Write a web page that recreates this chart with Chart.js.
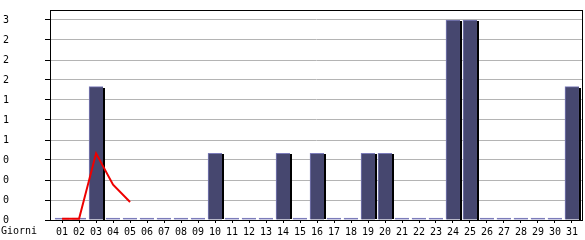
<!DOCTYPE html>
<html>
<head>
<meta charset="utf-8">
<script src="https://cdn.jsdelivr.net/npm/chart.js@4/dist/chart.umd.min.js"></script>
<style>
  body { margin: 0; background: #fff; }
  #wrap { width: 585px; height: 240px; }
</style>
</head>
<body>
<div id="wrap"><canvas id="giorni" width="585" height="240"></canvas></div>
<script>
const days = ['01','02','03','04','05','06','07','08','09','10','11','12','13','14','15','16',
              '17','18','19','20','21','22','23','24','25','26','27','28','29','30','31'];
const visits = [0,0,2,0,0,0,0,0,0,1,0,0,0,1,0,1,0,0,1,1,0,0,0,3,3,0,0,0,0,0,2];
const trend = [0.02, 0.02, 1.0, 0.53, 0.27];
const yTicks = [0, 0.3, 0.6, 0.9, 1.2, 1.5, 1.8, 2.1, 2.4, 2.7, 3.0];
const yLabels = ['0','0','0','0','1','1','1','2','2','2','3'];
const axisTitle = 'Giorni';

const FONT = { family: '"DejaVu Sans Mono", monospace', size: 10 };
const BODY = '#46476f';
const EDGE = '#7c7cba';

// black strip on the right of each bar, from the bar's own geometry
const barShadow = {
    id: 'barShadow',
    afterDatasetDraw(chart, args) {
        if (args.index !== 0) return;
        const ctx = chart.ctx;
        ctx.save();
        ctx.fillStyle = '#000';
        args.meta.data.forEach((el, i) => {
            if (!visits[i]) return;
            const p = el.getProps(['x', 'y', 'width', 'base'], true);
            ctx.fillRect(Math.round(p.x + p.width / 2), Math.round(p.y) + 1, 2, Math.round(p.base - p.y) - 1);
        });
        ctx.restore();
    }
};

const frame = {
    id: 'frame',
    beforeDatasetsDraw(chart) {
        const a = chart.chartArea;
        const ctx = chart.ctx;
        ctx.save();
        ctx.strokeStyle = '#000';
        ctx.lineWidth = 1;
        ctx.strokeRect(Math.round(a.left) + 0.5, Math.round(a.top) + 0.5,
                       Math.round(a.right - a.left), Math.round(a.bottom - a.top));
        ctx.restore();
    },
    afterDraw(chart) {
        const ctx = chart.ctx;
        ctx.save();
        ctx.fillStyle = '#000';
        ctx.font = '10px "DejaVu Sans Mono", monospace';
        ctx.textBaseline = 'middle';
        ctx.textAlign = 'left';
        ctx.fillText(axisTitle, 1, chart.scales.x.top + 11);
        ctx.restore();
    }
};

new Chart(document.getElementById('giorni'), {
    data: {
        datasets: [{
            type: 'bar',
            label: 'visite',
            data: days.map((d, i) => ({ x: i + 1, y: visits[i] })),
            backgroundColor: c => (c.raw && c.raw.y === 0) ? EDGE : BODY,
            borderColor: EDGE,
            borderWidth: { left: 1, top: 1, right: 0, bottom: 0 },
            borderSkipped: false,
            minBarLength: 2,
            barThickness: 14,
            order: 1
        }, {
            type: 'line',
            label: 'media',
            data: trend.map((v, i) => ({ x: i + 1, y: v })),
            borderColor: '#ee0000',
            borderWidth: 2,
            pointRadius: 0,
            tension: 0,
            fill: false,
            clip: false,
            order: 0
        }]
    },
    options: {
        responsive: false,
        animation: false,
        devicePixelRatio: 1,
        layout: { padding: { left: 3, top: 10, right: 3, bottom: 0 } },
        plugins: {
            legend: { display: false },
            tooltip: { enabled: false }
        },
        scales: {
            x: {
                type: 'linear',
                min: 0.29,
                max: 31.59,
                offset: false,
                afterBuildTicks: ax => { ax.ticks = days.map((d, i) => ({ value: i + 1 })); },
                afterFit: ax => { ax.height = 20; },
                ticks: {
                    autoSkip: false,
                    maxRotation: 0,
                    padding: 3,
                    color: '#000',
                    font: FONT,
                    callback: (v, i) => days[i]
                },
                grid: { offset: false, drawOnChartArea: false, tickLength: 3, tickColor: '#000' },
                border: { color: '#000' }
            },
            y: {
                min: 0,
                max: 3.15,
                afterBuildTicks: ax => { ax.ticks = yTicks.map(v => ({ value: v })); },
                afterFit: ax => { ax.width = 47; },
                ticks: {
                    crossAlign: 'far',
                    padding: 4,
                    color: '#000',
                    font: FONT,
                    callback: (v, i) => yLabels[i]
                },
                grid: { color: '#b4b4b4', tickLength: 5, tickColor: '#000' },
                border: { color: '#000' }
            }
        }
    },
    plugins: [barShadow, frame]
});
</script>
</body>
</html>
